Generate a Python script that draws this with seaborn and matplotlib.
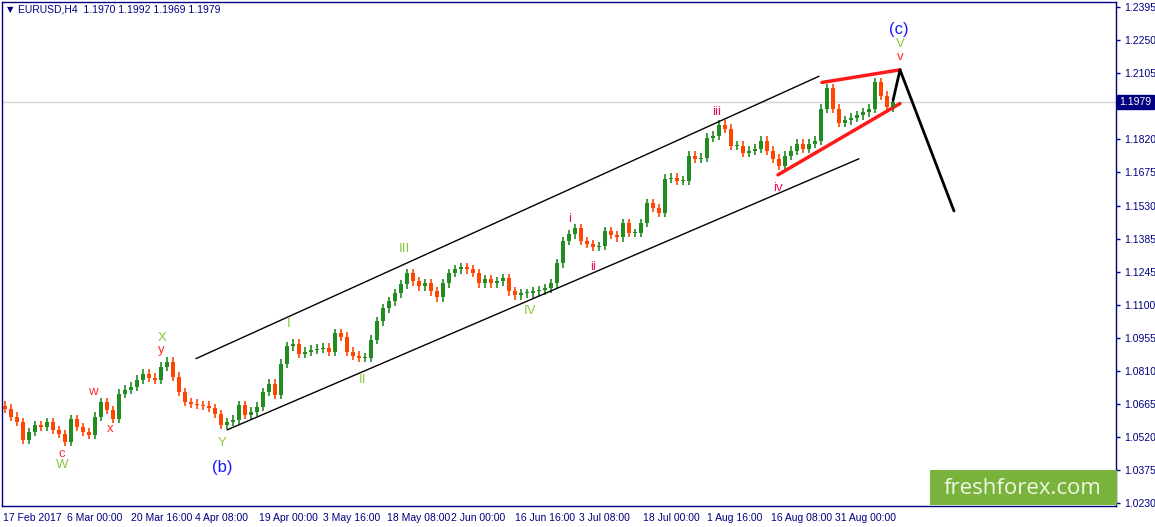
import numpy as np
import pandas as pd
import matplotlib
matplotlib.use("Agg")
import matplotlib.pyplot as plt
import seaborn as sns
from matplotlib.patches import Rectangle

# daily closes (one value every 6 bars)
closes = [1.0642, 1.0607, 1.0585, 1.0506, 1.0541, 1.0572, 1.0563, 1.0585, 1.0550, 1.0532,
          1.0497, 1.0598, 1.0563, 1.0541, 1.0528, 1.0607, 1.0672, 1.0637, 1.0598, 1.0708,
          1.0725, 1.0738, 1.0769, 1.0795, 1.0778, 1.0769, 1.0826, 1.0848, 1.0782, 1.0716,
          1.0672, 1.0664, 1.0659, 1.0655, 1.0646, 1.0620, 1.0572, 1.0585, 1.0594, 1.0659,
          1.0616, 1.0629, 1.0651, 1.0716, 1.0751, 1.0703, 1.0839, 1.0914, 1.0927, 1.0883,
          1.0892, 1.0900, 1.0905, 1.0909, 1.0892, 1.0971, 1.0957, 1.0892, 1.0874, 1.0865,
          1.0865, 1.0944, 1.1023, 1.1080, 1.1111, 1.1146, 1.1185, 1.1234, 1.1198, 1.1177,
          1.1190, 1.1155, 1.1128, 1.1190, 1.1234, 1.1251, 1.1260, 1.1251, 1.1234, 1.1190,
          1.1207, 1.1190, 1.1198, 1.1212, 1.1155, 1.1137, 1.1146, 1.1146, 1.1155, 1.1159,
          1.1168, 1.1190, 1.1277, 1.1374, 1.1404, 1.1431, 1.1374, 1.1361, 1.1348, 1.1352,
          1.1418, 1.1400, 1.1391, 1.1453, 1.1409, 1.1409, 1.1453, 1.1540, 1.1518, 1.1497,
          1.1646, 1.1650, 1.1637, 1.1637, 1.1746, 1.1733, 1.1738, 1.1825, 1.1834, 1.1882,
          1.1865, 1.1790, 1.1790, 1.1760, 1.1768, 1.1777, 1.1812, 1.1768, 1.1733, 1.1703,
          1.1746, 1.1768, 1.1799, 1.1777, 1.1799, 1.1812, 1.1952, 1.2040, 1.1952, 1.1891,
          1.1900, 1.1913, 1.1922, 1.1935, 1.1952, 1.2066, 1.2009, 1.1957, 1.1979]
first_open = 1.0655
wick = 0.0019

date_labels = ["17 Feb 2017", "6 Mar 00:00", "20 Mar 16:00", "4 Apr 08:00", "19 Apr 00:00",
               "3 May 16:00", "18 May 08:00", "2 Jun 00:00", "16 Jun 16:00", "3 Jul 08:00",
               "18 Jul 00:00", "1 Aug 16:00", "16 Aug 08:00", "31 Aug 00:00"]
# the 1.1965 level sits under the current price box
price_labels = ["1.2395", "1.2250", "1.2105", "", "1.1820", "1.1675", "1.1530", "1.1385",
                "1.1245", "1.1100", "1.0955", "1.0810", "1.0665", "1.0520", "1.0375", "1.0230"]
last_price = 1.1979

# hand drawn analysis lines (bar index, price)
chan_up_x, chan_up_y = [193, 816], [1.0861, 1.2093]
chan_lo_x, chan_lo_y = [224, 856], [1.0550, 1.1733]
tri_up_x, tri_up_y = [819, 897], [1.2066, 1.2121]
tri_lo_x, tri_lo_y = [775, 897], [1.1663, 1.1974]
proj_x, proj_y = [890, 897, 951], [1.1987, 1.2121, 1.1505]

# wave labels: text, bar index, price, colour group
waves = pd.DataFrame({
    "text": ["c", "W", "w", "x", "X", "y", "Y", "(b)", "I", "II", "III", "IV",
             "i", "ii", "iii", "iv", "(c)", "V", "v"],
    "bar": [59, 59, 90, 107, 159, 158, 219, 219, 286, 359, 401, 527,
            567, 590, 714, 775, 896, 897, 897],
    "price": [1.0445, 1.0396, 1.0716, 1.0554, 1.0949, 1.0900, 1.0493, 1.0388, 1.1010, 1.0769,
              1.1339, 1.1067, 1.1470, 1.1260, 1.1935, 1.1606, 1.2299, 1.2233, 1.2176],
    "kind": ["red", "green", "red", "red", "green", "red", "green", "blue", "green", "green",
             "green", "green", "pink", "pink", "pink", "pink", "blue", "green", "red"],
})
kind_colors = {"red": "#ff2a2a", "green": "#8cc63f", "pink": "#e8175d", "blue": "#1a1aff"}

navy = "#000080"
sns.set_style("white")
plt.rcParams["font.family"] = ["Liberation Sans", "DejaVu Sans"]

W, H = 1155, 527
fig = plt.figure(figsize=(W / 100, H / 100), dpi=100)
ax = fig.add_axes([2 / W, (H - 506) / H, 1114 / W, 504 / H])

opens = [first_open] + closes[:-1]
bars = np.arange(len(closes)) * 6 + 2
df = pd.DataFrame({"bar": bars, "open": opens, "close": closes})
df["up"] = df["close"] >= df["open"]
df["hi"] = df[["open", "close"]].max(axis=1) + wick
df["lo"] = df[["open", "close"]].min(axis=1) - wick
df["col"] = np.where(df["up"], "#228b22", "#ff4500")

ax.axhline(last_price, color="#d3d3d3", lw=1, zorder=1)
ax.vlines(df["bar"], df["lo"], df["hi"], colors=df["col"], lw=1.2, zorder=2)
ax.bar(df["bar"], (df["close"] - df["open"]).abs().clip(lower=0.0004),
       bottom=df[["open", "close"]].min(axis=1), width=4.4, color=df["col"],
       linewidth=0, zorder=3)

sns.lineplot(x=chan_up_x, y=chan_up_y, ax=ax, color="black", lw=1)
sns.lineplot(x=chan_lo_x, y=chan_lo_y, ax=ax, color="black", lw=1)
sns.lineplot(x=tri_up_x, y=tri_up_y, ax=ax, color="#ff1a1a", lw=2.5)
sns.lineplot(x=tri_lo_x, y=tri_lo_y, ax=ax, color="#ff1a1a", lw=2.5)
sns.lineplot(x=proj_x, y=proj_y, ax=ax, color="black", lw=2, sort=False)

for _, r in waves.iterrows():
    fs = 12 if r["kind"] == "blue" else 9.5
    ax.text(r["bar"], r["price"], r["text"], color=kind_colors[r["kind"]], fontsize=fs,
            ha="center", va="center", zorder=5)

ax.set_xlim(-1, 1113)
ax.set_ylim(1.0218, 1.2417)
tick_pos = 1.2395 - np.arange(len(price_labels)) * 0.014433
ax.set_yticks(tick_pos)
ax.set_yticklabels(price_labels)
ax.yaxis.tick_right()
ax.set_xticks(np.arange(len(date_labels)) * 64)
ax.set_xticklabels(date_labels, ha="left")
ax.tick_params(axis="both", colors=navy, labelsize=7.5, length=3, width=1, direction="out")
ax.tick_params(axis="x", pad=2)
ax.tick_params(axis="y", pad=3)
for s in ax.spines.values():
    s.set_color(navy)
    s.set_linewidth(1)
ax.set_xlabel("")
ax.set_ylabel("")

ax.text(1.003, last_price, "1.1979", transform=ax.get_yaxis_transform(), color="white",
        fontsize=7.5, va="center", ha="left", zorder=10,
        bbox=dict(boxstyle="square,pad=0.2", fc=navy, ec=navy), clip_on=False)

fig.text(7 / W, 1 - 10 / H, "▼", color=navy, fontsize=6, va="center", ha="left",
         family=["DejaVu Sans"])
fig.text(18 / W, 1 - 10 / H, "EURUSD,H4  1.1970 1.1992 1.1969 1.1979", color=navy,
         fontsize=7.5, va="center", ha="left")

fig.patches.append(Rectangle((930 / W, 1 - 505 / H), 187 / W, 35 / H, transform=fig.transFigure,
                             facecolor="#7ab33b", edgecolor="none", zorder=20))
fig.text(1023 / W, 1 - 488 / H, "freshforex.com", color="#eef6e4", fontsize=16,
         family=["Open Sans", "DejaVu Sans"], ha="center", va="center", zorder=21)

fig.savefig("out.png", dpi=100)
